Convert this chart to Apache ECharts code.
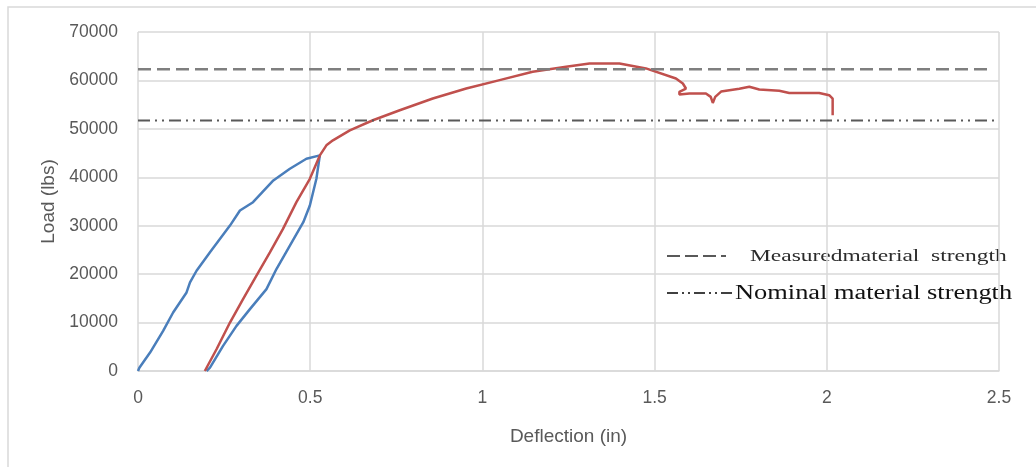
<!DOCTYPE html>
<html>
<head>
<meta charset="utf-8">
<script src="https://cdn.jsdelivr.net/npm/echarts@6/dist/echarts.min.js"></script>
<style>
  html, body { margin: 0; padding: 0; background: #fff; }
  #chart { width: 1036px; height: 467px; }
</style>
</head>
<body>
<div id="chart"></div>
<script>
// first loading then unloading (deflection in, load lbs)
var loadCycle = [
  [0, 0], [0.004, 690], [0.035, 3800], [0.073, 8280], [0.102, 12080], [0.141, 16220],
  [0.151, 18290], [0.17, 20700], [0.209, 24500], [0.267, 30030], [0.296, 33130],
  [0.334, 34860], [0.393, 39350], [0.441, 41760], [0.489, 43830], [0.528, 44520],
  [0.518, 39690], [0.499, 34170], [0.48, 30720], [0.441, 25890], [0.402, 21050],
  [0.373, 16910], [0.325, 12770], [0.286, 9320], [0.247, 5180], [0.209, 690], [0.199, 0]
];
// reloading to failure
var reload = [
  [0.194, 0], [0.228, 4490], [0.267, 10010], [0.305, 14840], [0.344, 19670],
  [0.383, 24510], [0.421, 29340], [0.46, 34860], [0.499, 39690], [0.528, 44520],
  [0.547, 46600], [0.566, 47630], [0.615, 49700], [0.682, 51780], [0.76, 53850],
  [0.856, 56260], [0.953, 58330], [1.05, 60060], [1.146, 61790], [1.243, 62820],
  [1.311, 63510], [1.398, 63510], [1.475, 62480], [1.562, 60410], [1.582, 59370],
  [1.591, 58330], [1.572, 57640], [1.572, 57100], [1.601, 57300], [1.649, 57300],
  [1.663, 56600], [1.669, 55350], [1.676, 56600], [1.693, 57700], [1.746, 58300],
  [1.775, 58700], [1.804, 58130], [1.862, 57860], [1.891, 57420], [1.978, 57420],
  [2.007, 56950], [2.017, 56260], [2.017, 52800]
];
var measuredStrength = [[0, 62300], [2.475, 62300]];
var nominalStrength = [[0, 51700], [2.5, 51700]];
var legendNames = ['Measuredmaterial  strength', 'Nominal material strength'];

var axisFont = 'Liberation Sans';
var option = {
  animation: false,
  grid: { left: 138, right: 37, top: 32, bottom: 96 },
  graphic: [
    {
      type: 'rect',
      shape: { x: 8, y: 7, width: 1040, height: 480 },
      style: { fill: 'none', stroke: '#d9d9d9', lineWidth: 1.5 },
      silent: true
    },
    // legend (drawn by hand, texts are stretched like the source image)
    {
      type: 'line',
      shape: { x1: 667, y1: 256, x2: 726, y2: 256 },
      style: { stroke: '#595959', lineWidth: 2, lineDash: [13, 5] }
    },
    {
      type: 'text', x: 750, y: 257, scaleX: 1.38,
      style: {
        text: legendNames[0], font: '17px "Liberation Serif"', fill: '#2b2b2b',
        textVerticalAlign: 'middle'
      }
    },
    {
      type: 'line',
      shape: { x1: 667, y1: 293, x2: 733, y2: 293 },
      style: { stroke: '#404040', lineWidth: 2, lineDash: [11, 4, 2, 4, 2, 4] }
    },
    {
      type: 'text', x: 735, y: 294, scaleX: 1.32,
      style: {
        text: legendNames[1], font: '20px "Liberation Serif"', fill: '#111',
        textVerticalAlign: 'middle'
      }
    }
  ],
  xAxis: {
    type: 'value', min: 0, max: 2.5, interval: 0.5,
    name: 'Deflection (in)', nameLocation: 'middle', nameGap: 56,
    nameTextStyle: { fontFamily: axisFont, fontSize: 19, color: '#595959' },
    axisLine: { show: true, lineStyle: { color: '#d9d9d9', width: 1.5 } },
    axisTick: { show: false },
    axisLabel: { fontFamily: axisFont, fontSize: 17.5, color: '#595959', margin: 18 },
    splitLine: { show: true, lineStyle: { color: '#d9d9d9', width: 1.5 } }
  },
  yAxis: {
    type: 'value', min: 0, max: 70000, interval: 10000,
    name: 'Load (lbs)', nameLocation: 'middle', nameGap: 80,
    nameTextStyle: { fontFamily: axisFont, fontSize: 19, color: '#595959' },
    axisLine: { show: false },
    axisTick: { show: false },
    axisLabel: {
      fontFamily: axisFont, fontSize: 17.5, color: '#595959', margin: 20,
      formatter: function (v) { return String(v); }
    },
    splitLine: { show: true, lineStyle: { color: '#d9d9d9', width: 1.5 } }
  },
  series: [
    {
      name: 'cycle', type: 'line', data: loadCycle, symbol: 'none',
      lineStyle: { color: '#4a7ebb', width: 2.5 }
    },
    {
      name: 'reload', type: 'line', data: reload, symbol: 'none',
      lineStyle: { color: '#c0504d', width: 2.5 }
    },
    {
      name: legendNames[0], type: 'line', data: measuredStrength, symbol: 'none',
      lineStyle: { color: '#7f7f7f', width: 2.5, type: [13, 6] }
    },
    {
      name: legendNames[1], type: 'line', data: nominalStrength, symbol: 'none',
      lineStyle: { color: '#595959', width: 2, type: [12, 5, 2, 5, 2, 5] }
    }
  ]
};

var myChart = echarts.init(document.getElementById('chart'));
myChart.setOption(option);
</script>
</body>
</html>
